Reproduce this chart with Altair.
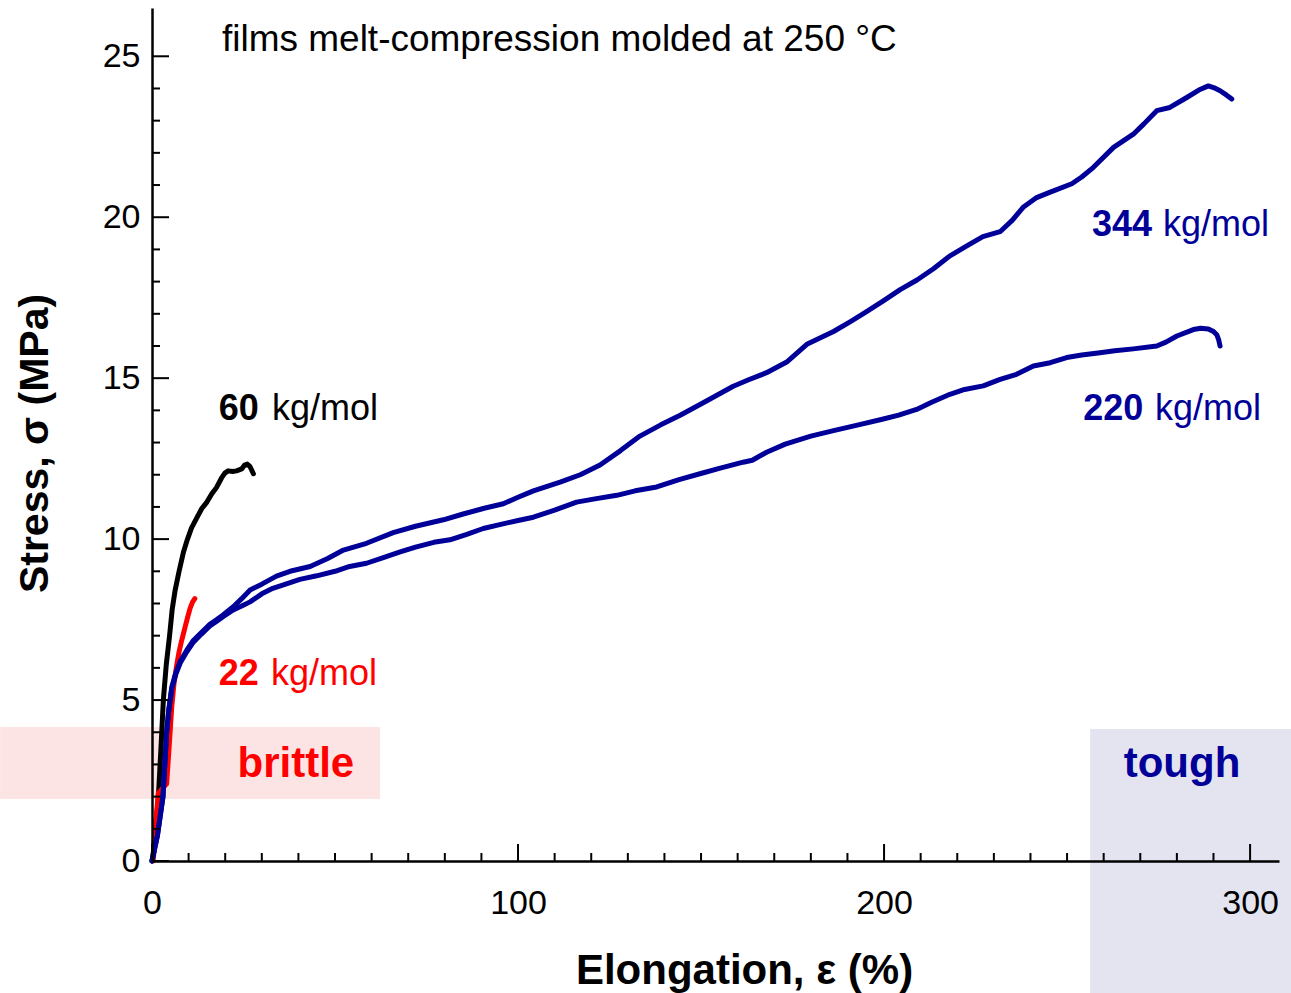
import altair as alt
import pandas as pd

# ---- data ----
black_x = [0, 0.4, 0.8, 1.7, 2.4, 3.1, 3.9, 4.8, 5.5, 6.3, 7.4, 8.6, 9.7, 10.8, 12.2, 13.6, 15.0, 16.3,
           17.6, 19.0, 19.9, 20.8, 22.0, 23.1, 24.5, 25.3, 26.0, 26.8, 27.7]
black_y = [0, 0.3, 0.9, 1.9, 3.4, 5.0, 6.1, 7.0, 7.8, 8.4, 9.0, 9.6, 10.0, 10.35, 10.65, 10.95, 11.15, 11.4,
           11.6, 11.9, 12.05, 12.12, 12.1, 12.12, 12.18, 12.3, 12.33, 12.25, 12.03]

red_x = [0.3, 0.8, 1.2, 1.7, 2.8, 4.0, 4.6, 5.4, 6.0, 6.7, 7.4, 8.1, 9.0, 9.8, 10.4, 11.1, 11.7]
red_y = [0, 0.6, 1.4, 2.1, 2.25, 2.4, 3.4, 4.8, 5.5, 6.05, 6.5, 6.85, 7.25, 7.6, 7.85, 8.05, 8.15]

b344_x = [0, 1.5, 3.0, 4.0, 4.6, 5.4, 6.5, 7.7, 9.5, 11.3, 13.5, 15.8, 17.7, 19.5, 22.2, 24.5, 26.8, 30, 34,
          37.7, 43.2, 48, 52.3, 58.6, 65.9, 72, 79.6, 85, 90.5, 96, 100, 104.2, 111.5, 117, 122.4, 128,
          133.3, 139, 144.3, 151.6, 158.8, 163, 167.9, 173.4, 178.9, 186.2, 190.7, 195, 199.8, 204.4, 209,
          213.5, 218, 222.5, 227, 231.7, 235, 238.1, 241.5, 245.4, 251.3, 254, 257.2, 262.7, 268.1, 271,
          274.5, 278.1, 282.7, 286, 288.6, 290.2, 291.8, 293.5, 295.0]
b344_y = [0, 0.8, 2.0, 4.0, 4.7, 5.4, 5.85, 6.2, 6.55, 6.85, 7.1, 7.35, 7.5, 7.65, 7.9, 8.15, 8.42, 8.6, 8.85,
          9.0, 9.15, 9.4, 9.66, 9.87, 10.2, 10.4, 10.6, 10.78, 10.95, 11.1, 11.3, 11.5, 11.77, 12.0, 12.3, 12.75,
          13.2, 13.55, 13.85, 14.3, 14.75, 14.95, 15.17, 15.5, 16.05, 16.45, 16.75, 17.05, 17.4, 17.75, 18.05,
          18.4, 18.8, 19.1, 19.4, 19.55, 19.9, 20.32, 20.6, 20.78, 21.04, 21.25, 21.55, 22.17, 22.58, 22.9,
          23.31, 23.41, 23.72, 23.95, 24.08, 24.02, 23.93, 23.8, 23.67]

b220_x = [0, 1.5, 3.0, 4.0, 4.6, 5.4, 6.5, 7.7, 9.5, 11.3, 13.5, 15.8, 17.7, 19.5, 22.2, 24.5, 26.8, 30, 33,
          35.9, 40.4, 45.0, 50, 54, 58.6, 63, 67.8, 72, 77, 81.4, 86, 90.5, 95, 100, 104.2, 110, 116, 121,
          127, 132, 137.9, 144, 149.7, 155, 161.5, 164, 167.9, 173, 180, 186.2, 193, 199.8, 204, 208.9,
          213, 218, 222, 227.1, 231.7, 236.2, 240.8, 245.4, 249.9, 254, 259, 263, 268.1, 274.5, 277, 280,
          284.5, 286.5, 288.6, 290.0, 290.9, 291.4, 291.8]
b220_y = [0, 0.8, 2.0, 4.0, 4.7, 5.35, 5.8, 6.15, 6.5, 6.8, 7.05, 7.3, 7.45, 7.6, 7.8, 7.92, 8.05, 8.3, 8.47,
          8.58, 8.75, 8.86, 9.0, 9.15, 9.25, 9.42, 9.6, 9.75, 9.9, 9.98, 10.15, 10.33, 10.45, 10.58, 10.68,
          10.9, 11.15, 11.25, 11.36, 11.5, 11.62, 11.85, 12.03, 12.2, 12.39, 12.45, 12.7, 12.95, 13.2, 13.37,
          13.55, 13.73, 13.85, 14.03, 14.25, 14.5, 14.65, 14.76, 14.96, 15.12, 15.38, 15.48, 15.64, 15.72,
          15.79, 15.85, 15.91, 16.0, 16.12, 16.31, 16.51, 16.55, 16.53, 16.45, 16.35, 16.2, 16.0]

series_names = ["60", "22", "344", "220"]
series_colors = ["#000000", "#FF0000", "#000099", "#000099"]

# annotation labels (bold number + regular unit)
label_num = ["60", "22", "344", "220"]
label_unit = ["kg/mol", "kg/mol", "kg/mol", "kg/mol"]
label_num_x = [29.2, 29.2, 273.2, 270.8]
label_unit_x = [32.8, 32.5, 276.2, 274.0]
label_y = [13.7, 5.47, 19.41, 13.7]

# regions
region_names = ["brittle", "tough"]
region_x1 = [-41.5, 256.3]
region_x2 = [62.3, 311.2]
region_y1 = [1.93, -4.1]
region_y2 = [4.16, 4.10]
region_fill = ["#FDE4E4", "#E4E4F0"]
region_text_x = [39.3, 281.4]
region_text_y = [2.61, 2.61]
region_text_color = ["#FF0000", "#000099"]

title_text = ["films melt-compression molded at 250 \u00b0C"]
title_x = [19.1]
title_y = [25.52]

x_major = [0, 100, 200, 300]
x_minor = [v for v in range(10, 301, 10) if v % 100 != 0]
y_major = [0, 5, 10, 15, 20, 25]
y_minor = [v for v in range(1, 25) if v % 5 != 0]

FONT = "Liberation Sans"
W, H = 1127, 853

# ---- tables ----
rows = []
for name, xs, ys in zip(series_names, [black_x, red_x, b344_x, b220_x], [black_y, red_y, b344_y, b220_y]):
    for i, (a, b) in enumerate(zip(xs, ys)):
        rows.append({"series": name, "x": a, "y": b, "i": i})
curves = pd.DataFrame(rows)
colors = dict(zip(series_names, series_colors))
curves["c"] = curves["series"].map(colors)

labels = pd.DataFrame({"num": label_num, "unit": label_unit, "nx": label_num_x,
                       "ux": label_unit_x, "y": label_y, "c": series_colors})
regions = pd.DataFrame({"name": region_names, "x1": region_x1, "x2": region_x2,
                        "y1": region_y1, "y2": region_y2, "fill": region_fill,
                        "tx": region_text_x, "ty": region_text_y, "tc": region_text_color})
titledf = pd.DataFrame({"t": title_text, "x": title_x, "y": title_y})

xscale = alt.Scale(domain=[0, 307.9], nice=False, zero=False)
yscale = alt.Scale(domain=[0, 26.5], nice=False, zero=False)

x_axis = alt.Axis(values=x_major, ticks=False, tickSize=0, grid=False, domainColor="black",
                  domainWidth=2.5, labelFont=FONT, labelFontSize=34, labelColor="black",
                  labelPadding=25, labelFlush=False, title="Elongation, \u03b5 (%)", titleFont=FONT,
                  titleFontSize=42, titleFontWeight="bold", titleColor="black", titleX=592,
                  titleY=122, titleAlign="center", titleBaseline="alphabetic", zindex=1)
y_axis = alt.Axis(values=y_major, ticks=False, tickSize=0, grid=False, domainColor="black",
                  domainWidth=2.5, labelFont=FONT, labelFontSize=34, labelColor="black",
                  labelPadding=12, labelFlush=False, title="Stress, \u03c3 (MPa)", titleFont=FONT,
                  titleFontSize=41, titleFontWeight="bold", titleColor="black", titleAngle=270,
                  titleX=-105, titleY=435, titleAlign="center", titleBaseline="alphabetic", zindex=1)


def X(field):
    return alt.X(field, scale=xscale, axis=x_axis)


def Y(field):
    return alt.Y(field, scale=yscale, axis=y_axis)


rects = alt.Chart(regions).mark_rect(clip=False).encode(
    x=X("x1:Q"), x2="x2:Q", y=Y("y1:Q"), y2="y2:Q",
    color=alt.Color("fill:N", scale=None))

lines = alt.Chart(curves).mark_line(strokeWidth=5, strokeCap="round", strokeJoin="round").encode(
    x=X("x:Q"), y=Y("y:Q"),
    color=alt.Color("c:N", scale=None),
    detail="series:N", order="i:Q")

ymaj = alt.Chart(pd.DataFrame({"v": y_major})).mark_rule(color="black", strokeWidth=2).encode(
    y=Y("v:Q"), x=alt.value(0), x2=alt.value(17))
ymin = alt.Chart(pd.DataFrame({"v": y_minor})).mark_rule(color="black", strokeWidth=2).encode(
    y=Y("v:Q"), x=alt.value(0), x2=alt.value(8))
xmaj = alt.Chart(pd.DataFrame({"v": x_major})).mark_rule(color="black", strokeWidth=2).encode(
    x=X("v:Q"), y=alt.value(H), y2=alt.value(H - 17))
xmin = alt.Chart(pd.DataFrame({"v": x_minor})).mark_rule(color="black", strokeWidth=2).encode(
    x=X("v:Q"), y=alt.value(H), y2=alt.value(H - 8))

num_text = alt.Chart(labels).mark_text(font=FONT, fontSize=36, fontWeight="bold", align="right",
                                       baseline="alphabetic").encode(
    x=X("nx:Q"), y=Y("y:Q"), text="num:N", color=alt.Color("c:N", scale=None))
unit_text = alt.Chart(labels).mark_text(font=FONT, fontSize=36, align="left",
                                        baseline="alphabetic").encode(
    x=X("ux:Q"), y=Y("y:Q"), text="unit:N", color=alt.Color("c:N", scale=None))
region_text = alt.Chart(regions).mark_text(font=FONT, fontSize=42, fontWeight="bold", align="center",
                                           baseline="alphabetic", clip=False).encode(
    x=X("tx:Q"), y=Y("ty:Q"), text="name:N", color=alt.Color("tc:N", scale=None))
top_text = alt.Chart(titledf).mark_text(font=FONT, fontSize=37, align="left", baseline="middle",
                                        color="black").encode(
    x=X("x:Q"), y=Y("y:Q"), text="t:N")

chart = alt.layer(rects, lines, ymaj, ymin, xmaj, xmin, num_text, unit_text, region_text, top_text
                  ).properties(
    width=W, height=H, autosize="none",
    padding={"left": 152, "top": 8, "right": 12, "bottom": 132},
    background="white"
).configure_view(stroke=None)

chart.save("out.html", embed_options={"renderer": "svg", "actions": False})
